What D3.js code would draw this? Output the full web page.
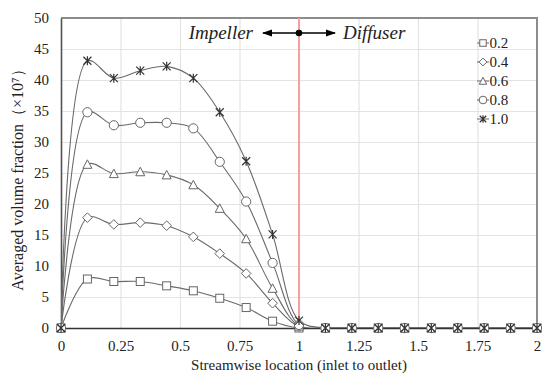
<!DOCTYPE html>
<html>
<head>
<meta charset="utf-8">
<script src="https://cdn.jsdelivr.net/npm/d3@7"></script>
<style>
  body { margin: 0; background: #fff; }
  svg text { font-family: "Liberation Serif", "DejaVu Serif", serif; fill: #222; }
</style>
</head>
<body>
<div id="chart"></div>
<script>
// Streamwise locations (inlet to outlet)
var location_ = [0, 0.111, 0.222, 0.333, 0.444, 0.556, 0.667, 0.778, 0.889, 1,
    1.111, 1.222, 1.333, 1.444, 1.556, 1.667, 1.778, 1.889, 2];

// Averaged volume fraction (x10^7) for each series
var s02 = [0, 7.9, 7.5, 7.5, 6.8, 6.0, 4.8, 3.3, 1.1, 0, 0, 0, 0, 0, 0, 0, 0, 0, 0];
var s04 = [0, 17.8, 16.7, 17.0, 16.5, 14.7, 12.0, 8.8, 4.0, 0.2, 0, 0, 0, 0, 0, 0, 0, 0, 0];
var s06 = [0, 26.4, 24.9, 25.2, 24.7, 23.1, 19.3, 14.4, 6.4, 0.3, 0, 0, 0, 0, 0, 0, 0, 0, 0];
var s08 = [0, 34.8, 32.7, 33.1, 33.1, 32.2, 26.8, 20.4, 10.5, 0.5, 0, 0, 0, 0, 0, 0, 0, 0, 0];
var s10 = [0, 43.1, 40.3, 41.5, 42.2, 40.3, 34.8, 26.9, 15.1, 1.2, 0, 0, 0, 0, 0, 0, 0, 0, 0];

var seriesNames = ["0.2", "0.4", "0.6", "0.8", "1.0"];
var seriesMarkers = ["square", "diamond", "triangle", "circle", "star"];

var xTicks = [0, 0.25, 0.5, 0.75, 1, 1.25, 1.5, 1.75, 2];
var yTicks = [0, 5, 10, 15, 20, 25, 30, 35, 40, 45, 50];

var series = [s02, s04, s06, s08, s10].map(function (vals, i) {
    return {
        name: seriesNames[i],
        marker: seriesMarkers[i],
        points: vals.map(function (v, j) { return { x: location_[j], y: v }; })
    };
});

var svgWidth = 550;
var svgHeight = 380;
var margin = { top: 18, right: 13, bottom: 52, left: 61 };
var width = svgWidth - margin.left - margin.right;
var height = svgHeight - margin.top - margin.bottom;

var svg = d3.select("#chart")
    .append("svg")
    .attr("width", svgWidth)
    .attr("height", svgHeight);

var chartGroup = svg.append("g")
    .attr("transform", `translate(${margin.left}, ${margin.top})`);

var xScale = d3.scaleLinear().domain([0, 2]).range([0, width]);
var yScale = d3.scaleLinear().domain([0, 50]).range([height, 0]);

// Gridlines
chartGroup.append("g")
    .attr("class", "grid")
    .attr("transform", `translate(0, ${height})`)
    .call(d3.axisBottom(xScale).tickValues(xTicks).tickSize(-height).tickFormat(""))
    .call(g => g.select(".domain").remove())
    .selectAll("line").attr("stroke", "#e3e3e3").attr("stroke-width", 1.2);

chartGroup.append("g")
    .attr("class", "grid")
    .call(d3.axisLeft(yScale).tickValues(yTicks).tickSize(-width).tickFormat(""))
    .call(g => g.select(".domain").remove())
    .selectAll("line").attr("stroke", "#e3e3e3").attr("stroke-width", 1.2);

// Top and right border
chartGroup.append("path")
    .attr("d", `M0,0H${width}V${height}`)
    .attr("fill", "none")
    .attr("stroke", "#8c8c8c")
    .attr("stroke-width", 2);

// Impeller / diffuser divider
chartGroup.append("line")
    .attr("x1", xScale(1)).attr("x2", xScale(1))
    .attr("y1", 0).attr("y2", height)
    .attr("stroke", "#f4a0a0")
    .attr("stroke-width", 2);

// Axes
var bottomAxis = d3.axisBottom(xScale).tickValues(xTicks).tickSize(0).tickPadding(12)
    .tickFormat(d => String(d));
var leftAxis = d3.axisLeft(yScale).tickValues(yTicks).tickSize(0).tickPadding(12);

chartGroup.append("g")
    .attr("transform", `translate(0, ${height})`)
    .call(bottomAxis)
    .call(g => g.select(".domain").attr("stroke", "#333").attr("stroke-width", 1.6))
    .selectAll("text").style("font-size", "15px").attr("fill", "#222");

chartGroup.append("g")
    .call(leftAxis)
    .call(g => g.select(".domain").attr("stroke", "#555").attr("stroke-width", 1.6))
    .selectAll("text").style("font-size", "15px").attr("fill", "#222");

// Lines
var clip = svg.append("clipPath").attr("id", "plotClip")
    .append("rect").attr("width", width).attr("height", height);

var line = d3.line()
    .x(d => xScale(d.x))
    .y(d => yScale(d.y))
    .curve(d3.curveCatmullRom.alpha(0.5));

chartGroup.append("g")
    .attr("clip-path", "url(#plotClip)")
    .selectAll("path")
    .data(series)
    .enter()
    .append("path")
    .attr("d", d => line(d.points))
    .attr("fill", "none")
    .attr("stroke", "#6a6a6a")
    .attr("stroke-width", 1.1);

// Marker drawing
function drawMarker(g, type, s) {
    var h = s / 2;
    if (type === "square") {
        g.append("rect").attr("x", -h).attr("y", -h).attr("width", s).attr("height", s)
            .attr("fill", "#fff").attr("stroke", "#666").attr("stroke-width", 1);
    } else if (type === "diamond") {
        var d = h * 1.2;
        g.append("path").attr("d", `M0,${-d}L${d},0L0,${d}L${-d},0Z`)
            .attr("fill", "#fff").attr("stroke", "#666").attr("stroke-width", 1);
    } else if (type === "triangle") {
        g.append("path").attr("d", `M0,${-h - 0.5}L${h + 0.5},${h}L${-h - 0.5},${h}Z`)
            .attr("fill", "#fff").attr("stroke", "#666").attr("stroke-width", 1);
    } else if (type === "circle") {
        g.append("circle").attr("r", h + 0.6)
            .attr("fill", "#fff").attr("stroke", "#666").attr("stroke-width", 1);
    } else {
        g.append("path")
            .attr("d", `M${-h},${-h}L${h},${h}M${h},${-h}L${-h},${h}M0,${-h - 0.5}V${h + 0.5}`)
            .attr("fill", "none").attr("stroke", "#333").attr("stroke-width", 1.2);
    }
}

series.forEach(function (s) {
    chartGroup.append("g")
        .selectAll("g")
        .data(s.points)
        .enter()
        .append("g")
        .attr("transform", d => `translate(${xScale(d.x)}, ${yScale(d.y)})`)
        .each(function () { drawMarker(d3.select(this), s.marker, 8); });
});

// Legend
var legend = svg.append("g").attr("transform", "translate(483, 43)");
series.forEach(function (s, i) {
    var row = legend.append("g").attr("transform", `translate(0, ${i * 19})`);
    row.append("line").attr("x1", -6).attr("x2", 6)
        .attr("stroke", "#6a6a6a").attr("stroke-width", 1);
    drawMarker(row, s.marker, 6.5);
    row.append("text")
        .attr("x", 6.5)
        .attr("dy", "0.35em")
        .style("font-size", "15px")
        .text(s.name);
});

// Impeller / Diffuser annotation
var annY = 33;
var defs = svg.append("defs");
defs.append("marker")
    .attr("id", "arrowHead")
    .attr("viewBox", "0 0 10 10")
    .attr("refX", 9).attr("refY", 5)
    .attr("markerWidth", 7).attr("markerHeight", 7)
    .attr("orient", "auto-start-reverse")
    .append("path").attr("d", "M0,1.5L10,5L0,8.5Z").attr("fill", "#000");

svg.append("line")
    .attr("x1", 263).attr("x2", 335)
    .attr("y1", annY).attr("y2", annY)
    .attr("stroke", "#000").attr("stroke-width", 1.5)
    .attr("marker-start", "url(#arrowHead)")
    .attr("marker-end", "url(#arrowHead)");

svg.append("circle")
    .attr("cx", margin.left + xScale(1)).attr("cy", annY).attr("r", 3.3)
    .attr("fill", "#000");

svg.append("text")
    .attr("x", 253).attr("y", annY + 6)
    .style("text-anchor", "end")
    .style("font-size", "19px")
    .style("font-style", "italic")
    .text("Impeller");

svg.append("text")
    .attr("x", 343).attr("y", annY + 6)
    .style("font-size", "19px")
    .style("font-style", "italic")
    .text("Diffuser");

// Axis labels
svg.append("text")
    .attr("transform", `translate(23, ${176}) rotate(-90)`)
    .style("text-anchor", "middle")
    .style("font-size", "16px")
    .text("Averaged volume fraction\uff08\u00d710\u2077\uff09");

svg.append("text")
    .attr("x", margin.left + width / 2)
    .attr("y", 370)
    .style("text-anchor", "middle")
    .style("font-size", "15px")
    .text("Streamwise location (inlet to outlet)");
</script>
</body>
</html>
